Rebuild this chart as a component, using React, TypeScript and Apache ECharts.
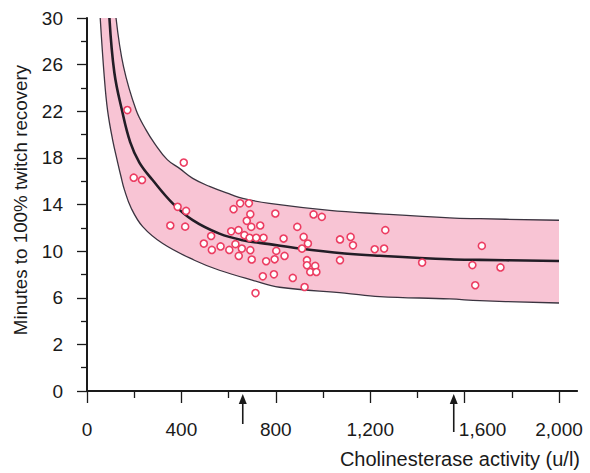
import React, { useEffect, useRef } from "react";
import * as echarts from "echarts";

// ---- data (u/l, minutes) ----
const X_TICKS = [0, 400, 800, 1200, 1600, 2000];
const X_LABEL_SHIFTED = 1600; // label moved right of the arrow in the original
const Y_TICK_LABELS = ["0", "2", "6", "10", "14", "18", "22", "26", "30"];
const Y_OFFSET = 2; // the axis has a break: label "0" sits where 2 units below "2" would be

const UPPER_X = [123, 155, 208, 250, 286, 340, 392, 448, 519, 611, 660, 773, 1028, 1240, 1537, 1665, 2000];
const UPPER_Y = [30, 25.8, 22.1, 20.4, 19.25, 17.85, 17.1, 16.24, 15.55, 14.85, 14.52, 14.1, 13.5, 13.2, 12.85, 12.78, 12.65];

const MIDDLE_X = [95, 116, 148, 183, 222, 278, 363, 448, 561, 660, 773, 901, 1092, 1240, 1537, 1665, 2000];
const MIDDLE_Y = [30, 25.3, 22.1, 19.35, 17.6, 16.1, 14.1, 12.66, 11.5, 10.94, 10.6, 10.22, 9.8, 9.6, 9.3, 9.25, 9.15];

const LOWER_X = [56, 73, 87, 109, 130, 144, 158, 187, 236, 321, 455, 561, 703, 816, 1092, 1240, 1537, 1665, 2000];
const LOWER_Y = [30, 25, 22.1, 19.5, 17.6, 16.4, 15.3, 13.7, 12.1, 10.65, 9.22, 8.36, 7.5, 6.9, 6.4, 6.1, 5.9, 5.75, 5.55];

const POINTS_X = [
  171, 410, 198, 233, 384, 420, 353, 416, 526, 495, 529, 566, 603,
  649, 686, 621, 692, 798, 960, 995, 677, 734, 696, 611, 642, 667, 689, 717, 748,
  891, 833, 918, 936, 911, 1072, 629, 656, 692, 802, 837, 643, 698, 759, 795,
  932, 932, 967, 946, 972, 1072, 745, 792, 872, 922, 714,
  1264, 1117, 1127, 1219, 1259, 1420, 1673, 1633, 1752, 1645,
];
const POINTS_Y = [
  22.1, 17.6, 16.3, 16.1, 13.8, 13.45, 12.2, 12.1, 11.3, 10.65, 10.1, 10.4, 10.1,
  14.1, 14.1, 13.6, 13.17, 13.23, 13.15, 12.94, 12.6, 12.2, 12.08, 11.7, 11.8, 11.37, 11.14, 11.14, 11.14,
  12.08, 11.08, 11.22, 10.65, 10.22, 11.0, 10.6, 10.22, 10.08, 10.02, 9.59, 9.59, 9.28, 9.13, 9.3,
  9.22, 8.79, 8.73, 8.21, 8.21, 9.22, 7.84, 8.01, 7.7, 6.92, 6.4,
  11.8, 11.22, 10.5, 10.16, 10.22, 9.02, 10.45, 8.8, 8.6, 7.07,
];

const ARROW_X = [660, 1554];
const AXIS_LINE_END = 2080;

const X_TITLE = "Cholinesterase activity (u/l)";
const Y_TITLE = "Minutes to 100% twitch recovery";

const FONT = "Liberation Sans, Arial, Helvetica, sans-serif";
const PINK = "#f8c4d4";
const OUTLINE = "#3b3440";
const INK = "#1a1a1a";
const DOT = "#ec3d62";
const SMOOTH = 0.4;

const pair = (xs: number[], ys: number[]) => xs.map((x, i) => [x, ys[i] + Y_OFFSET]);

export default function App() {
  const ref = useRef<HTMLDivElement>(null);

  useEffect(() => {
    const chart = echarts.init(ref.current!, null, { renderer: "svg" });
    const xMax = X_TICKS[X_TICKS.length - 1];
    const yMaxAxis = Number(Y_TICK_LABELS[Y_TICK_LABELS.length - 1]) + Y_OFFSET;
    const labelStyle = { fontSize: 19, fontFamily: FONT, color: INK };

    const option: any = {
      animation: false,
      grid: { left: 87, right: 31, top: 18, bottom: 82, containLabel: false },
      xAxis: {
        type: "value",
        min: X_TICKS[0],
        max: xMax,
        interval: X_TICKS[1] - X_TICKS[0],
        z: 5,
        axisLine: { show: true, lineStyle: { color: INK, width: 2 } },
        axisTick: { show: true, length: 12, lineStyle: { color: INK, width: 1.3 } },
        minorTick: { show: true, splitNumber: 2, length: 7, lineStyle: { color: INK, width: 1.3 } },
        splitLine: { show: false },
        axisLabel: {
          margin: 29,
          ...labelStyle,
          formatter: (v: number) => {
            const s = v.toLocaleString("en-US");
            return v === X_LABEL_SHIFTED ? `{shift|${s}}` : s;
          },
          rich: { shift: { ...labelStyle, padding: [0, 0, 0, 36] } },
        },
      },
      yAxis: {
        type: "value",
        min: 0,
        max: yMaxAxis,
        interval: 4,
        z: 5,
        axisLine: { show: true, lineStyle: { color: INK, width: 2 } },
        axisTick: { show: true, length: 10, lineStyle: { color: INK, width: 1.3 } },
        minorTick: { show: true, splitNumber: 2, length: 6, lineStyle: { color: INK, width: 1.3 } },
        splitLine: { show: false },
        axisLabel: {
          margin: 24,
          ...labelStyle,
          formatter: (v: number) => Y_TICK_LABELS[Math.round(v / 4)] ?? "",
        },
      },
      series: [
        {
          // lower limit: pink filled from the curve up to the top of the plot
          type: "line",
          silent: true,
          data: pair(LOWER_X, LOWER_Y),
          smooth: SMOOTH,
          symbol: "none",
          lineStyle: { color: OUTLINE, width: 1.3 },
          areaStyle: { color: PINK, opacity: 1, origin: "end" },
          z: 1,
        },
        {
          // upper limit: white above it, leaving the pink band between
          type: "line",
          silent: true,
          data: pair(UPPER_X, UPPER_Y),
          smooth: SMOOTH,
          symbol: "none",
          lineStyle: { color: OUTLINE, width: 1.3 },
          areaStyle: { color: "#ffffff", opacity: 1, origin: "end" },
          z: 2,
        },
        {
          type: "line",
          silent: true,
          data: pair(MIDDLE_X, MIDDLE_Y),
          smooth: SMOOTH,
          symbol: "none",
          lineStyle: { color: "#221d26", width: 2.6 },
          z: 3,
        },
        {
          type: "scatter",
          silent: true,
          data: pair(POINTS_X, POINTS_Y),
          symbol: "circle",
          symbolSize: 7,
          itemStyle: { color: "#ffffff", borderColor: DOT, borderWidth: 1.6, opacity: 1 },
          z: 4,
        },
      ],
      graphic: [
        {
          type: "text",
          id: "xtitle",
          x: 580,
          y: 459,
          style: {
            text: X_TITLE,
            font: `20px ${FONT}`,
            fill: INK,
            align: "right",
            verticalAlign: "middle",
          },
        },
        {
          type: "text",
          id: "ytitle",
          x: 20,
          y: 200,
          rotation: Math.PI / 2,
          style: {
            text: Y_TITLE,
            font: `18.8px ${FONT}`,
            fill: INK,
            align: "center",
            verticalAlign: "middle",
          },
        },
      ],
    };

    chart.setOption(option);

    const [xA, yAxisPix] = chart.convertToPixel({ gridIndex: 0 }, [xMax, 0]) as number[];
    const [xB] = chart.convertToPixel({ gridIndex: 0 }, [AXIS_LINE_END, 0]) as number[];
    const extra: any[] = [
      {
        type: "line",
        id: "axisExt",
        shape: { x1: xA - 1, y1: yAxisPix, x2: xB, y2: yAxisPix },
        style: { stroke: INK, lineWidth: 2 },
        z: 10,
      },
    ];
    ARROW_X.forEach((ax, i) => {
      const [px] = chart.convertToPixel({ gridIndex: 0 }, [ax, 0]) as number[];
      const tip = yAxisPix + 3;
      const len = i === 0 ? 30 : 38;
      extra.push({
        type: "line",
        id: "arrowShaft" + i,
        shape: { x1: px, y1: tip + 6, x2: px, y2: tip + len },
        style: { stroke: INK, lineWidth: 1.6 },
        z: 10,
      });
      extra.push({
        type: "polygon",
        id: "arrowHead" + i,
        shape: { points: [[px, tip], [px - 4, tip + 10], [px + 4, tip + 10]] },
        style: { fill: INK },
        z: 10,
      });
    });
    chart.setOption({ graphic: extra });

    return () => chart.dispose();
  }, []);

  return (
    <div
      ref={ref}
      style={{ position: "absolute", left: 0, top: 0, width: 590, height: 473, background: "#fff" }}
    />
  );
}
